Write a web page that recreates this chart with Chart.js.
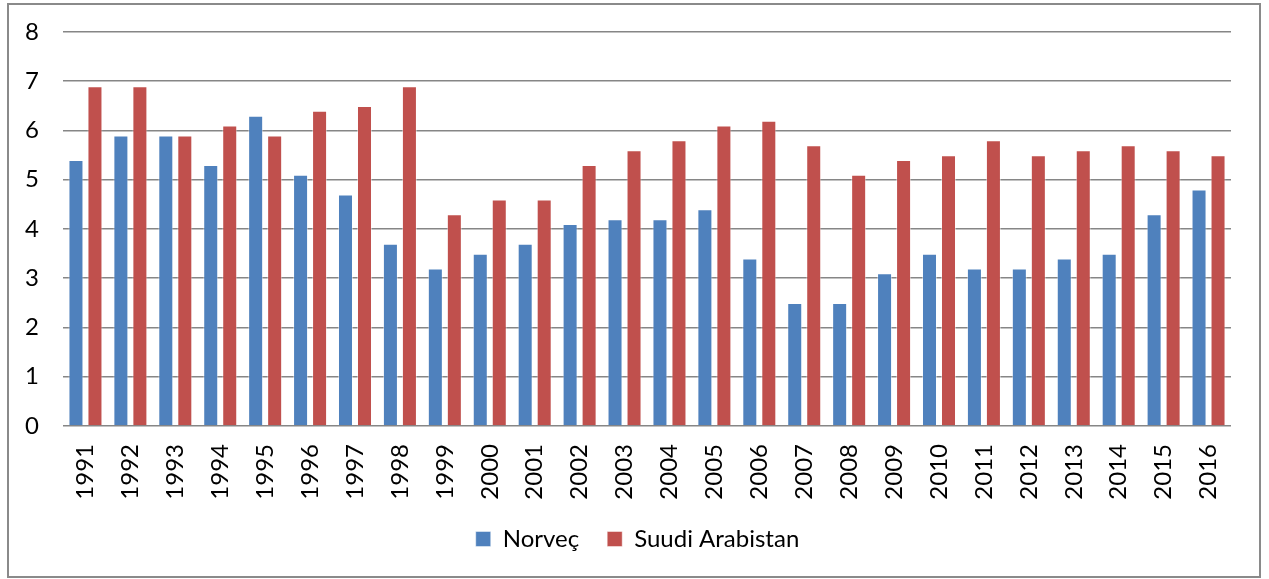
<!DOCTYPE html>
<html>
<head>
<meta charset="utf-8">
<script src="https://cdn.jsdelivr.net/npm/chart.js@4.4.1/dist/chart.umd.min.js"></script>
<style>
html,body{margin:0;padding:0;background:#fff;}
#wrap{position:relative;width:1269px;height:579px;}
</style>
</head>
<body>
<div id="wrap"><canvas id="c" width="1269" height="579"></canvas></div>
<script>
const categories = ['1991','1992','1993','1994','1995','1996','1997','1998','1999','2000','2001','2002','2003','2004','2005','2006','2007','2008','2009','2010','2011','2012','2013','2014','2015','2016'];
const norvec = [5.4,5.9,5.9,5.3,6.3,5.1,4.7,3.7,3.2,3.5,3.7,4.1,4.2,4.2,4.4,3.4,2.5,2.5,3.1,3.5,3.2,3.2,3.4,3.5,4.3,4.8];
const suudi = [6.9,6.9,5.9,6.1,5.9,6.4,6.5,6.9,4.3,4.6,4.6,5.3,5.6,5.8,6.1,6.2,5.7,5.1,5.4,5.5,5.8,5.5,5.6,5.7,5.6,5.5];
const yTicks = [0,1,2,3,4,5,6,7,8];

const FONT = 'Lato, "Liberation Sans", sans-serif';

const borderPlugin = {
  id: 'outerBorder',
  afterLayout(chart) {
    if (chart.legend) {
      chart.legend.left += 22;
      chart.legend.right += 22;
    }
  },
  afterDraw(chart) {
    const ctx = chart.ctx;
    ctx.save();
    ctx.strokeStyle = '#8a8a8a';
    ctx.lineWidth = 2;
    ctx.strokeRect(8, 4, 1252, 573);
    ctx.restore();
  }
};

new Chart(document.getElementById('c'), {
  type: 'bar',
  data: {
    labels: categories,
    datasets: [
      { label: 'Norveç', data: norvec, backgroundColor: '#4F81BD', borderColor: 'rgba(255,255,255,0.45)', borderWidth: 1 },
      { label: 'Suudi Arabistan', data: suudi, backgroundColor: '#C0504D', borderColor: 'rgba(255,255,255,0.45)', borderWidth: 1 }
    ]
  },
  options: {
    responsive: false,
    animation: false,
    devicePixelRatio: 1,
    categoryPercentage: 0.846,
    barPercentage: 0.79,
    layout: { padding: { left: 0, top: 32, right: 38, bottom: 18 } },
    plugins: {
      legend: {
        position: 'bottom',
        labels: {
          font: { family: FONT, size: 24 },
          color: '#000',
          boxWidth: 15,
          boxHeight: 15,
          padding: 28
        }
      },
      tooltip: { enabled: false }
    },
    scales: {
      x: {
        grid: { display: false },
        border: { display: false },
        ticks: {
          font: { family: FONT, size: 24 },
          color: '#000',
          minRotation: 90,
          maxRotation: 90,
          padding: 10,
          autoSkip: false
        },
        afterFit(scale) { scale.height = 73; scale.paddingLeft = 0; scale.paddingRight = 0; }
      },
      y: {
        min: 0,
        max: 8,
        afterBuildTicks(scale) { scale.ticks = yTicks.map(v => ({ value: v })); },
        grid: { color: '#868686', lineWidth: 1.6, drawTicks: false },
        border: { display: false },
        ticks: {
          font: { family: FONT, size: 24 },
          color: '#000',
          padding: 24
        },
        afterFit(scale) { scale.width = 63; scale.paddingTop = 0; scale.paddingBottom = 0; }
      }
    }
  },
  plugins: [borderPlugin]
});
</script>
</body>
</html>
